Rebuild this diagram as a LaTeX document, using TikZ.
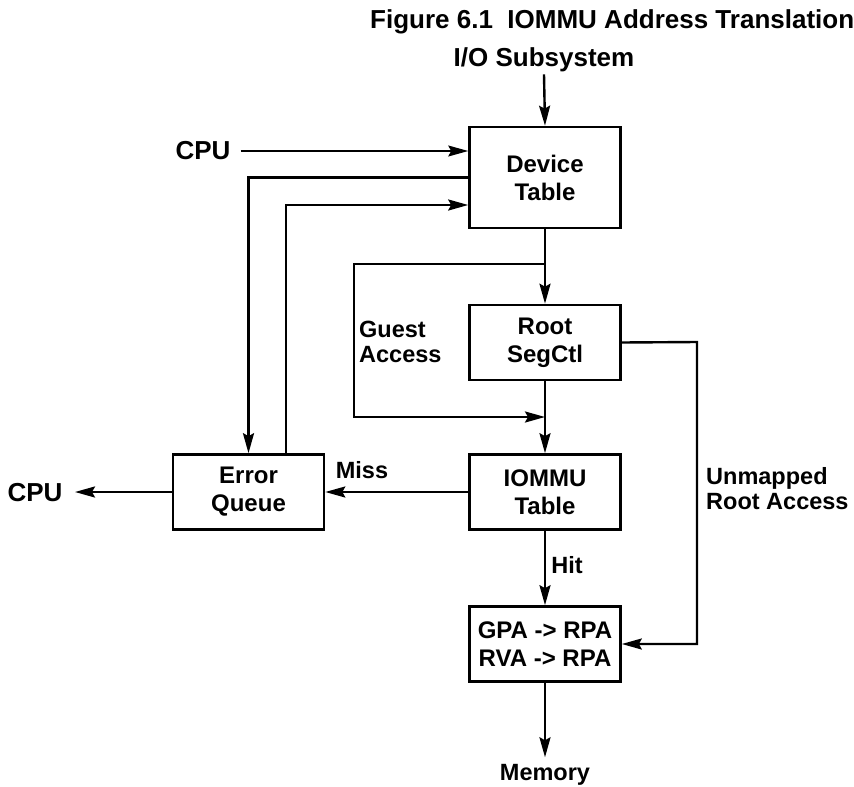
\documentclass[tikz,border=0pt]{standalone}
\usepackage{fontspec}
\setmainfont{Liberation Sans}
\usetikzlibrary{arrows.meta}
\begin{document}
\begin{tikzpicture}[x=1pt,y=-1pt,
  box/.style={draw,line width=2.6pt,minimum width=151pt,minimum height=75pt,inner sep=0pt,align=center,
    font=\fontsize{24}{28}\selectfont\bfseries},
  lbl/.style={inner sep=0pt,align=left,font=\fontsize{23.5}{25}\selectfont\bfseries},
  big/.style={inner sep=0pt,font=\fontsize{26}{30}\selectfont\bfseries},
  conn/.style={line width=2.4pt,-{Stealth[length=20pt,width=11pt,inset=3pt]}},
  thin/.style={line width=1.3pt,-{Stealth[length=20pt,width=11pt,inset=3pt]}}]
\useasboundingbox (0,0) rectangle (854,787);
% title and labels
\node[big,anchor=west] (title) at (370,22) {Figure 6.1\ \ IOMMU Address Translation};
\node[big] (io) at (544,60) {I/O Subsystem};
\node[big] (cpu1) at (203,151) {CPU};
\node[big] (cpu2) at (35,493) {CPU};
\node[lbl] (mem) at (545,775) {Memory};
\node[lbl,anchor=west] (guest) at (359,342) {Guest\\Access};
\node[lbl,anchor=west] (unm) at (706,489) {Unmapped\\Root Access};
\node[lbl] (miss) at (362,470) {Miss};
\node[lbl] (hit) at (567,565) {Hit};
% boxes
\node[box,minimum height=101pt] (dev) at (545,177.5) {Device\\Table};
\node[box] (root) at (545,342.5) {Root\\SegCtl};
\node[box] (iommu) at (545,492) {IOMMU\\Table};
\node[box] (gpa) at (545,644) {GPA -> RPA\\RVA -> RPA};
\node[box] (err) at (248.5,492) {Error\\Queue};
% helper coordinates
\coordinate (j1) at (545,264);
\coordinate (j2) at (545,417);
\coordinate (gl) at (354,264);
\coordinate (ur) at (697,342);
\coordinate (cpuout) at (75,492);
\coordinate (eup) at (286,205);
% connectors
\draw[conn] (io.south) ++(0,2) -- (dev.north);
\draw[thin] (cpu1.east) ++(10,0) -- (dev.west |- cpu1.east);
\draw[conn] (dev.west) -| (err.north);
\draw[conn] ([xshift=37.5pt]err.north) |- (dev.west |- eup);
\draw[conn] (dev.south) -- (root.north);
\draw[conn] (j1) -- (gl) |- (j2);
\draw[conn] (root.south) -- (iommu.north);
\draw[conn] (iommu.west) -- (err.east);
\draw[conn] (err.west) -- (cpuout);
\draw[conn] (root.east) -- (ur) |- (gpa.east);
\draw[conn] (iommu.south) -- (gpa.north);
\draw[conn,shorten >=7pt] (gpa.south) -- (mem.north);
\end{tikzpicture}
\end{document}
